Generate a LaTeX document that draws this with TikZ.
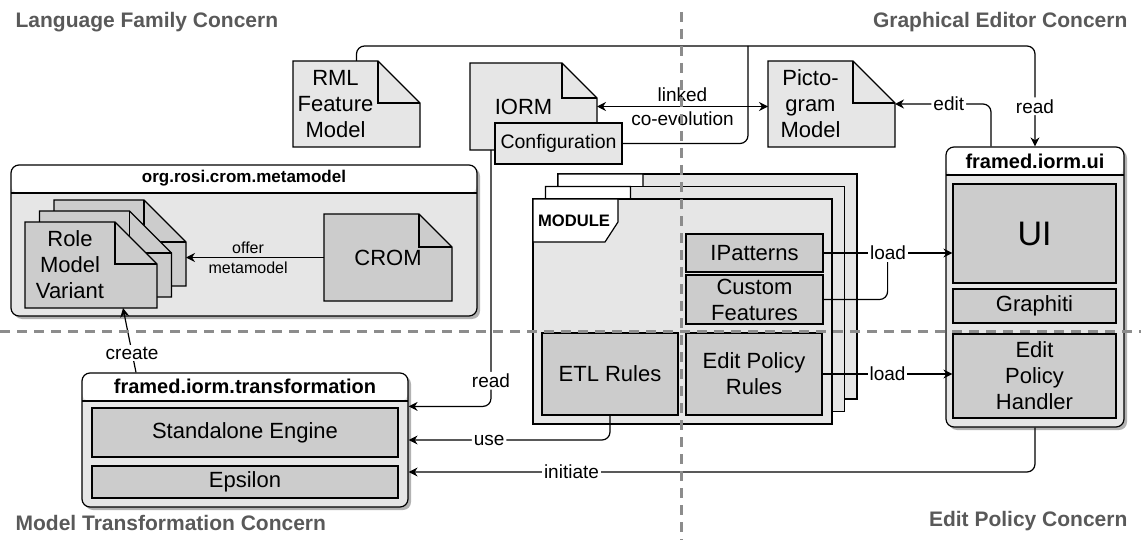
\documentclass[tikz,border=0pt]{standalone}
\usepackage{fontspec}
\setmainfont{Liberation Sans}
\usetikzlibrary{arrows.meta,shadows}

\definecolor{lightfill}{HTML}{E6E6E6}
\definecolor{boxfill}{HTML}{CCCCCC}
\definecolor{concerngray}{HTML}{595959}
\definecolor{guidegray}{HTML}{8C8C8C}

% document shape with folded corner, drawn round an (invisible) node
\newcommand{\docshape}[3]{%
  \filldraw[fill=#3] (#1.north west) -- ([xshift=-#2]#1.north east) -- ([yshift=-#2]#1.north east)
    -- (#1.south east) -- (#1.south west) -- cycle;
  \draw ([xshift=-#2]#1.north east) |- ([yshift=-#2]#1.north east);
}

\tikzset{
  innerbox/.style={draw, fill=boxfill, inner sep=0pt, align=center, font=\fontsize{11}{13}\selectfont},
  container/.style={draw, fill=lightfill, rounded corners=4pt, inner sep=0pt,
    drop shadow={shadow xshift=1.5pt, shadow yshift=-1.5pt, fill=black, opacity=0.3},
    path picture={
      \fill[white] (path picture bounding box.north west) rectangle ([yshift=-14pt]path picture bounding box.north east);
      \draw ([yshift=-14pt]path picture bounding box.north west) -- ([yshift=-14pt]path picture bounding box.north east);}},
  boxtitle/.style={font=\bfseries\fontsize{10}{12}\selectfont, inner sep=0pt},
  docarea/.style={inner sep=0pt, outer sep=0pt},
  doctext/.style={align=center, inner sep=0pt, font=\fontsize{11}{13}\selectfont},
  lbl/.style={fill=white, inner sep=1pt, font=\fontsize{9.5}{11}\selectfont},
  concern/.style={font=\bfseries\fontsize{10.5}{12}\selectfont, text=concerngray, inner sep=0pt},
  guide/.style={guidegray, line width=1.5pt, dash pattern=on 5pt off 3.5pt},
  flow/.style={-{Stealth[length=4.5pt, width=4.5pt]}},
  twoway/.style={{Stealth[length=4.5pt, width=4.5pt]}-{Stealth[length=4.5pt, width=4.5pt]}}
}

\begin{document}
\begin{tikzpicture}[x=0.5pt, y=-0.5pt, line width=0.6pt]
\useasboundingbox (0,0) rectangle (1141,540);

% Concern labels
\node[concern, anchor=west] (lang) at (15,22) {Language Family Concern};
\node[concern, anchor=east] (editor) at (1128,22) {Graphical Editor Concern};
\node[concern, anchor=west] (transf) at (15,523) {Model Transformation Concern};
\node[concern, anchor=east] (policy) at (1128,521) {Edit Policy Concern};

% Containers
\node[container, minimum width=233pt, minimum height=75.5pt] (metamodel) at (244,240.5) {};
\node[boxtitle, font=\bfseries\fontsize{8.5}{10}\selectfont] (metamodel title) at ([yshift=-7pt]metamodel.north) {org.rosi.crom.metamodel};
\node[container, minimum width=163pt, minimum height=67pt] (trafo) at (245,440) {};
\node[boxtitle] (trafo title) at ([yshift=-7pt]trafo.north) {framed.iorm.transformation};
\node[container, minimum width=89pt, minimum height=140pt] (ui) at (1035,287) {};
\node[boxtitle] (ui title) at ([yshift=-7.5pt]ui.north) {framed.iorm.ui};

% Parts of the containers
\node[innerbox, minimum width=153pt, minimum height=24.5pt] (engine) at (245,432.5) {Standalone Engine};
\node[innerbox, minimum width=153pt, minimum height=16pt] (epsilon) at (245,482) {Epsilon};
\node[innerbox, minimum width=81.5pt, minimum height=49.5pt, font=\fontsize{17}{20}\selectfont] (uibox) at (1034.5,233.5) {UI};
\node[innerbox, minimum width=81.5pt, minimum height=17pt] (graphiti) at (1034.5,306) {Graphiti};
\node[innerbox, minimum width=81.5pt, minimum height=42pt] (handler) at (1034.5,376) {Edit\\Policy\\Handler};

% Documents
\node[docarea, minimum width=63.5pt, minimum height=43pt] (rml) at (356.5,104) {};
\docshape{rml}{21pt}{lightfill}
\node[doctext] (rml text) at ([xshift=-10.5pt]rml.center) {RML\\Feature\\Model};

\node[docarea, minimum width=63.5pt, minimum height=43.5pt] (iorm) at (533.5,106.5) {};
\docshape{iorm}{17.5pt}{lightfill}
\node[doctext] (iorm text) at ([xshift=-5pt]iorm.center) {IORM};
\node[innerbox, fill=lightfill, minimum width=63.5pt, minimum height=20.5pt, font=\fontsize{9.75}{11}\selectfont] (config) at (558.5,143.5) {Configuration};

\node[docarea, minimum width=63.5pt, minimum height=43pt] (picto) at (831.5,104) {};
\docshape{picto}{21pt}{lightfill}
\node[doctext] (picto text) at ([xshift=-10.5pt]picto.center) {Picto-\\gram\\Model};

\node[docarea, minimum width=64pt, minimum height=43.5pt] (crom) at (388,257.5) {};
\docshape{crom}{16.5pt}{boxfill}
\node[doctext] (crom text) at (crom.center) {CROM};

% Role model variants (stack)
\foreach \s in {2,1,0}
{
    \node[docarea, minimum width=66pt, minimum height=43pt] (role\s) at ({91+14.5*\s},{265-11*\s}) {};
    \docshape{role\s}{21pt}{boxfill}
}
\node[doctext] (role text) at ([xshift=-10.5pt]role0.center) {Role\\Model\\Variant};

% Module (stack of frames)
\foreach \s in {2,1,0}
{
    \filldraw[fill=lightfill] ({533+12.5*\s},{199-12.5*\s}) rectangle ++(299,225);
    \filldraw[fill=white] ({533+12.5*\s},{199-12.5*\s}) -- ++(85,0) -- ++(0,23) -- ++(-13,20) -- ++(-72,0) -- cycle;
}
\node[inner sep=0pt, font=\bfseries\fontsize{8.3}{10}\selectfont] (module) at (574,221) {MODULE};
\node[innerbox, minimum width=68.5pt, minimum height=19pt] (ipatterns) at (754.5,253) {IPatterns};
\node[innerbox, minimum width=68.5pt, minimum height=24.5pt] (custom) at (754.5,299.5) {Custom\\Features};
\node[innerbox, minimum width=68pt, minimum height=41pt] (etl) at (610,374) {ETL Rules};
\node[innerbox, minimum width=68pt, minimum height=41pt] (policyrules) at (754,374) {Edit Policy\\Rules};

% Connectors
\coordinate (topline) at (0,46);
\coordinate (join) at (748,46);
\draw[flow, rounded corners=4pt] (rml.north) |- (topline -| ui.north) -- node[lbl, pos=0.6] {read} (ui.north);
\draw[rounded corners=4pt] (config.east) -| (join);
\draw[twoway] (iorm.east) -- node[midway, align=center, inner sep=0pt, font=\fontsize{9.5}{12}\selectfont] {linked\\co-evolution} (iorm.east -| picto.west);
\draw[flow, rounded corners=4pt] ([xshift=-22pt]ui.north) |- node[lbl, pos=0.72] {edit} (picto.east);
\draw[flow] (crom.west) -- node[pos=0.55, align=center, inner sep=0pt, font=\fontsize{8}{10}\selectfont] {offer\\metamodel} (crom.west -| role2.east);
\draw[flow] ([xshift=-54.5pt]trafo.north) -- node[lbl, pos=0.3] {create} ([xshift=16pt]role0.south);
\draw[flow, rounded corners=4pt] ([xshift=-21.25pt]iorm.south) |- node[lbl, pos=0.45] {read} ([yshift=-17pt]trafo.north east);
\draw[flow, rounded corners=4pt] (etl.south) |- node[lbl, pos=0.8] {use} (trafo.east);
\draw[flow, rounded corners=4pt] (ui.south) |- node[lbl, pos=0.87] {initiate} ([yshift=-16pt]trafo.east);
\draw[rounded corners=4pt] (custom.east) -| ([xshift=32pt]ipatterns.east);
\draw[flow] (ipatterns.east) -- node[lbl] {load} (ipatterns.east -| uibox.west);
\draw[flow] (policyrules.east) -- node[lbl] {load} (policyrules.east -| handler.west);

% Concern borders
\draw[guide] (681,12) -- (681,540);
\draw[guide] (0,331) -- (1141,331);

\end{tikzpicture}
\end{document}
